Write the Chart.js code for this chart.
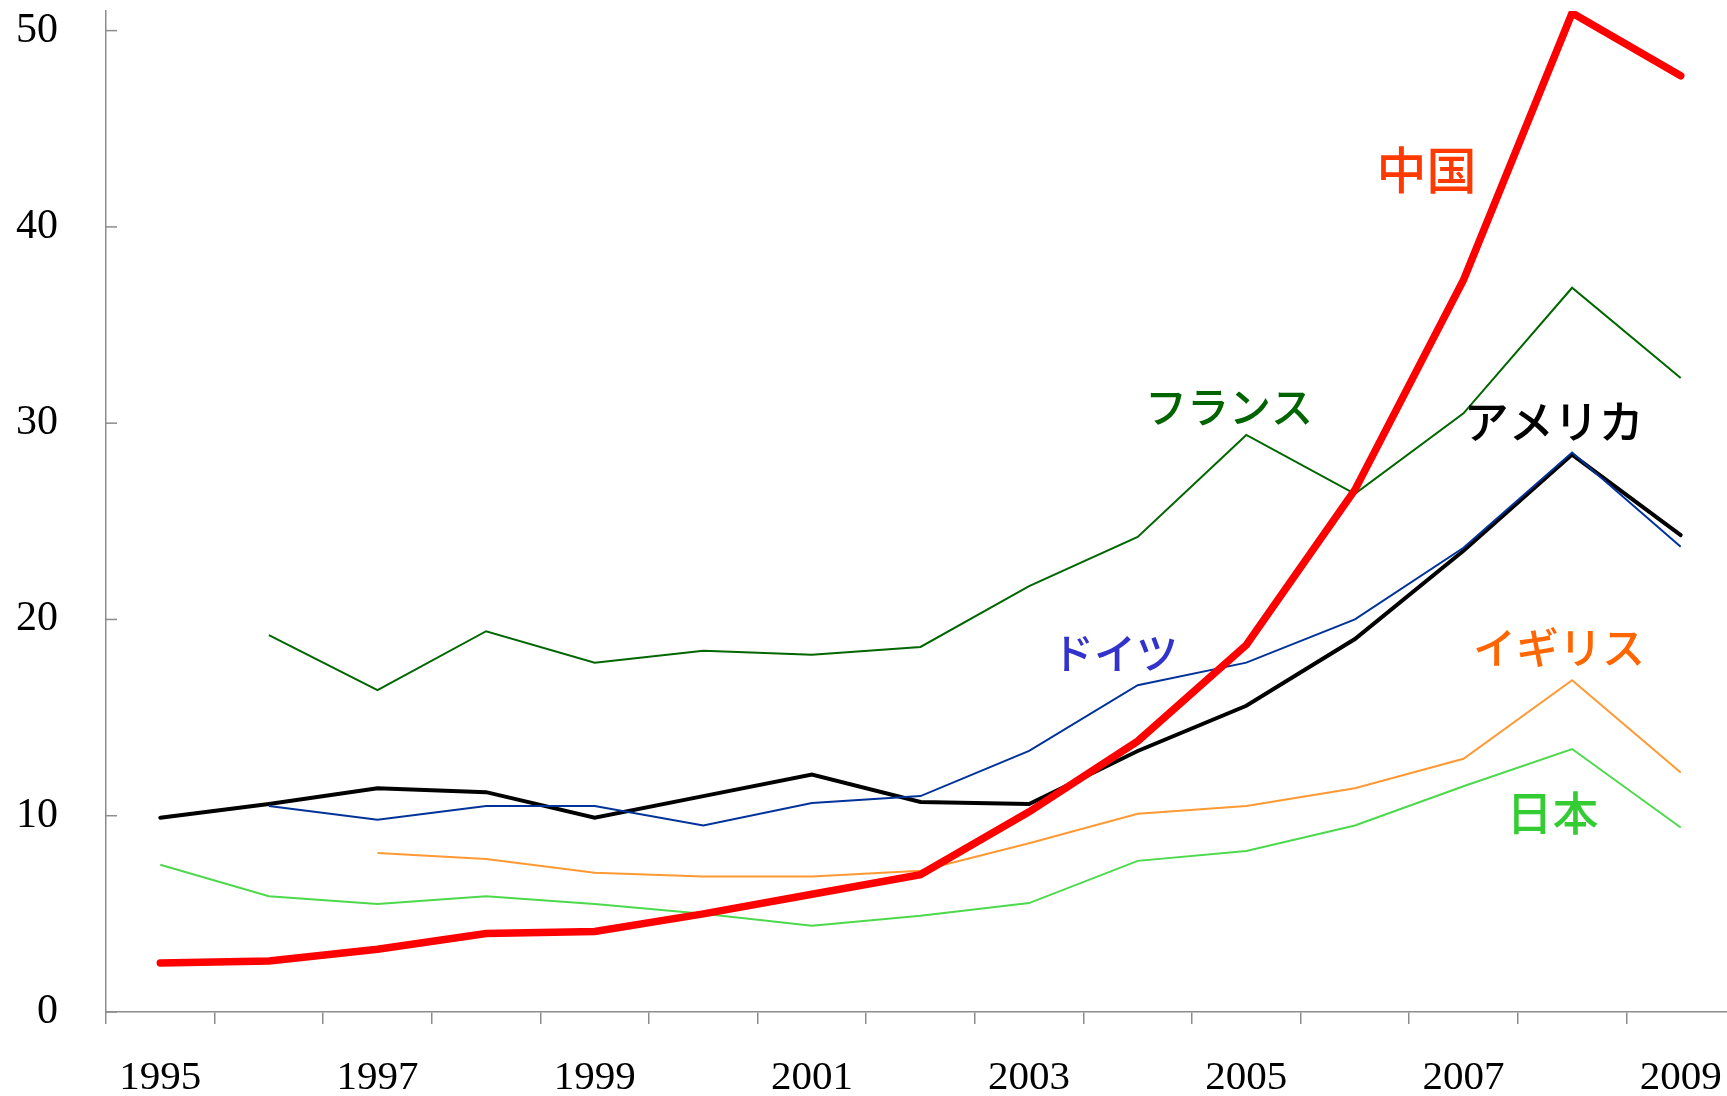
<!DOCTYPE html>
<html><head><meta charset="utf-8">
<script src="https://cdn.jsdelivr.net/npm/chart.js@4/dist/chart.umd.min.js"></script>
<style>html,body{margin:0;padding:0;background:#fff;overflow:hidden;width:1727px;height:1096px}canvas{display:block}</style>
</head><body>
<canvas id="c" width="1735" height="1096" style="width:1735px;height:1096px"></canvas>
<script>
const years = ['1995','1996','1997','1998','1999','2000','2001','2002','2003','2004','2005','2006','2007','2008','2009'];
const china   = [2.5, 2.6, 3.2, 4.0, 4.1, 5.0, 6.0, 7.0, 10.2, 13.8, 18.7, 26.6, 37.3, 50.9, 47.7];
const usa     = [9.9, 10.6, 11.4, 11.2, 9.9, 11.0, 12.1, 10.7, 10.6, 13.3, 15.6, 19.0, 23.5, 28.4, 24.3];
const germany = [null, 10.5, 9.8, 10.5, 10.5, 9.5, 10.65, 11.0, 13.3, 16.65, 17.8, 20.0, 23.65, 28.5, 23.7];
const france  = [null, 19.2, 16.4, 19.4, 17.8, 18.4, 18.2, 18.6, 21.7, 24.2, 29.4, 26.4, 30.5, 36.9, 32.3];
const uk      = [null, null, 8.1, 7.8, 7.1, 6.9, 6.9, 7.2, 8.6, 10.1, 10.5, 11.4, 12.9, 16.9, 12.2];
const japan   = [7.5, 5.9, 5.5, 5.9, 5.5, 5.0, 4.4, 4.9, 5.55, 7.7, 8.2, 9.5, 11.5, 13.4, 9.4];
const seriesNames = ['中国', 'フランス', 'アメリカ', 'ドイツ', 'イギリス', '日本'];
const yTicks = [0, 10, 20, 30, 40, 50];
const tickLabels = years.map((y, i) => i % 2 === 0 ? y : '');

// annotation placement (category index, value) and colours
const nameStyle = [
  {xi: 11.66, v: 42.9, color: '#ff3a00', size: 50},
  {xi: 9.84,  v: 30.8, color: '#006400', size: 42},
  {xi: 12.83, v: 30.05, color: '#000000', size: 45},
  {xi: 8.79,  v: 18.3, color: '#3333cc', size: 42},
  {xi: 12.88, v: 18.55, color: '#ff6600', size: 43},
  {xi: 12.82, v: 10.15, color: '#33cc33', size: 46}
];

const AX = '#8c8c8c';
const overlay = {
  id: 'overlay',
  afterDatasetsDraw(chart) {
    const {ctx, scales: {x, y}} = chart;
    ctx.save();
    ctx.strokeStyle = AX; ctx.lineWidth = 1.5;
    y.ticks.forEach(t => {
      const py = y.getPixelForValue(t.value);
      ctx.beginPath(); ctx.moveTo(y.right, py); ctx.lineTo(y.right + 11, py); ctx.stroke();
    });
    ctx.textAlign = 'center'; ctx.textBaseline = 'middle';
    seriesNames.forEach((n, i) => {
      const s = nameStyle[i];
      ctx.fillStyle = s.color;
      ctx.font = '500 ' + s.size + 'px "Noto Sans CJK JP"';
      const px = x.getPixelForValue(0) + s.xi * (x.getPixelForValue(1) - x.getPixelForValue(0));
      ctx.fillText(n, px, y.getPixelForValue(s.v));
    });
    ctx.restore();
  }
};

const ds = (label, data, color, width, order, cap) => ({
  label, data, borderColor: color, backgroundColor: color, borderWidth: width,
  pointRadius: 0, pointHoverRadius: 0, tension: 0, spanGaps: false, order,
  borderCapStyle: cap || 'butt', borderJoinStyle: 'miter', fill: false
});

new Chart(document.getElementById('c'), {
  type: 'line',
  data: {
    labels: years,
    datasets: [
      ds('中国', china, '#ff0000', 7.5, 0, 'round'),
      ds('ドイツ', germany, '#003399', 2, 1),
      ds('アメリカ', usa, '#000000', 4, 2, 'round'),
      ds('フランス', france, '#006600', 2, 3),
      ds('イギリス', uk, '#ff9933', 2, 4),
      ds('日本', japan, '#4cd94c', 2, 5)
    ]
  },
  options: {
    responsive: false, animation: false, devicePixelRatio: 1,
    layout: {padding: {top: 11, left: 0, right: 0, bottom: 0}},
    plugins: {legend: {display: false}, tooltip: {enabled: false}},
    scales: {
      x: {
        type: 'category', offset: true,
        grid: {display: true, offset: true, drawOnChartArea: false, drawTicks: true, tickLength: 12, color: AX, lineWidth: 1.5},
        border: {display: true, color: AX, width: 1.5},
        ticks: {autoSkip: false, maxRotation: 0, minRotation: 0, padding: 30, color: '#000',
          font: {family: '"Liberation Serif"', size: 41},
          callback: (v, i) => tickLabels[i]},
        afterFit: s => { s.height = 84; s.paddingLeft = 0; s.paddingRight = 0; }
      },
      y: {
        min: 0, max: 51,
        afterBuildTicks: s => { s.ticks = yTicks.map(v => ({value: v})); },
        grid: {display: true, drawOnChartArea: false, drawTicks: false},
        border: {display: true, color: AX, width: 1.5},
        ticks: {padding: 48, color: '#000', font: {family: '"Liberation Serif"', size: 42}},
        afterFit: s => { s.width = 106; s.paddingTop = 0; s.paddingBottom = 0; }
      }
    }
  },
  plugins: [overlay]
});
</script>
</body></html>
